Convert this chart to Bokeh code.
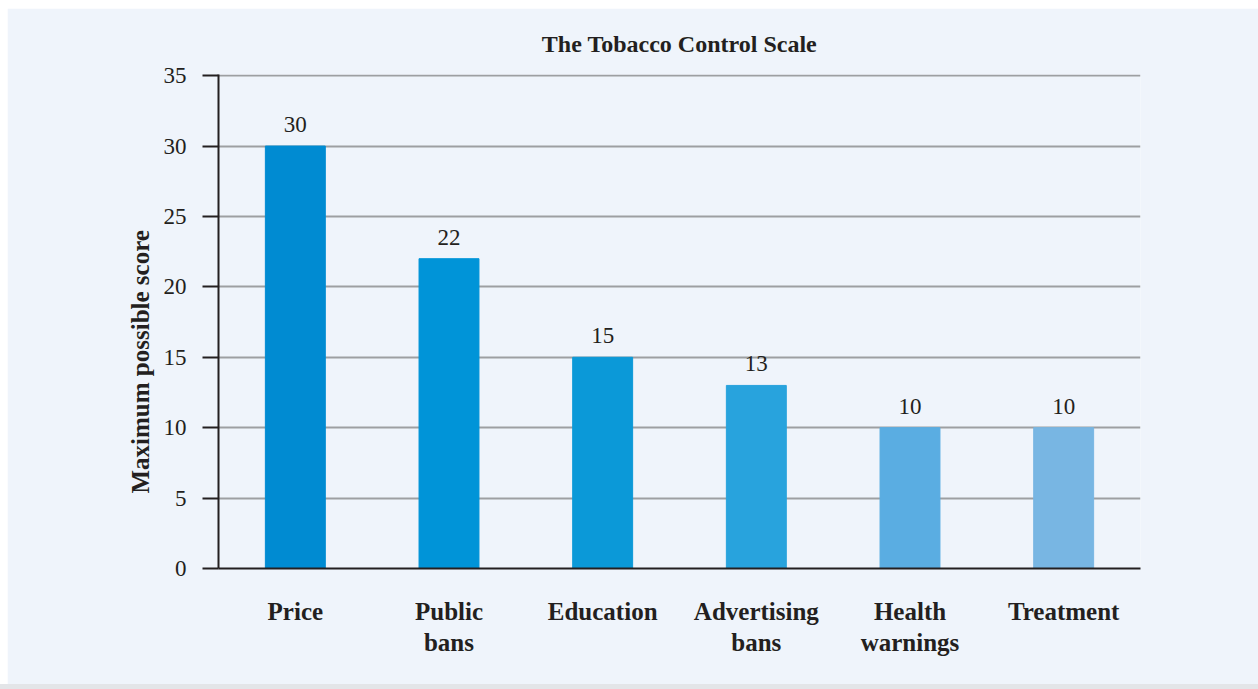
from bokeh.plotting import figure
from bokeh.models import (ColumnDataSource, FactorRange, Range1d, SingleIntervalTicker, Div, Title)
from bokeh.layouts import column
from bokeh.core.properties import value
from bokeh.embed import file_html
from bokeh.resources import INLINE

categories = ["Price", "Public\nbans", "Education", "Advertising\nbans", "Health\nwarnings", "Treatment"]
scores = [30, 22, 15, 13, 10, 10]
bar_colors = ["#008bd2", "#0094d8", "#0b99d8", "#28a3dd", "#5aade2", "#78b6e3"]

FONT = "Liberation Serif"
INK = "#231f20"
BG = "#eff4fb"

src = ColumnDataSource(dict(cat=categories, score=scores, color=bar_colors,
                            label=[str(s) for s in scores]))

p = figure(x_range=FactorRange(*categories, range_padding=0), y_range=Range1d(0, 35.08),
           width=1251, height=676, output_backend="svg", toolbar_location=None,
           min_border_left=211, min_border_right=118, min_border_top=66, min_border_bottom=116)
p.margin = (8, 0, 0, 7)
p.background_fill_color = BG
p.border_fill_color = BG
p.outline_line_color = None

p.vbar(x="cat", top="score", width=0.39, bottom=0, color="color", source=src)
p.text(x="cat", y="score", text="label", source=src, y_offset=-14,
       text_align="center", text_baseline="bottom",
       text_font=value(FONT), text_font_size="23px", text_color=INK)

# grid
p.xgrid.grid_line_color = None
p.ygrid.grid_line_color = "#9d9fa2"
p.ygrid.grid_line_width = 2
p.ygrid.ticker = SingleIntervalTicker(interval=5)

# y axis
ya = p.yaxis[0]
ya.ticker = SingleIntervalTicker(interval=5)
ya.axis_line_color = INK
ya.axis_line_width = 2
ya.major_tick_line_color = INK
ya.major_tick_line_width = 2
ya.major_tick_in = 0
ya.major_tick_out = 16
ya.minor_tick_line_color = None
ya.major_label_standoff = 16
ya.major_label_text_font = FONT
ya.major_label_text_font_size = "23px"
ya.major_label_text_color = INK

ylab = Title(text="Maximum possible score", text_font=FONT, text_font_style="bold",
             text_font_size="25px", text_color=INK, align="left", offset=75, standoff=14)
p.add_layout(ylab, "left")

xa = p.xaxis[0]
xa.axis_line_color = INK
xa.axis_line_width = 2
xa.major_tick_line_color = None
xa.minor_tick_line_color = None
xa.major_label_standoff = 23
xa.major_label_text_font = FONT
xa.major_label_text_font_style = "bold"
xa.major_label_text_font_size = "25px"
xa.major_label_text_color = INK
xa.major_label_text_line_height = 1.15

p.title.text = "The Tobacco Control Scale"
p.title.text_font = FONT
p.title.text_font_style = "bold"
p.title.text_font_size = "24px"
p.title.text_color = INK
p.title.align = "center"
p.title.standoff = 36

strip = Div(text="", width=1258, height=5, styles={"background-color": "#e3e5e8"}, margin=(0, 0, 0, 0))

layout = column(p, strip, spacing=0)
open("out.html", "w").write(file_html(layout, INLINE))
